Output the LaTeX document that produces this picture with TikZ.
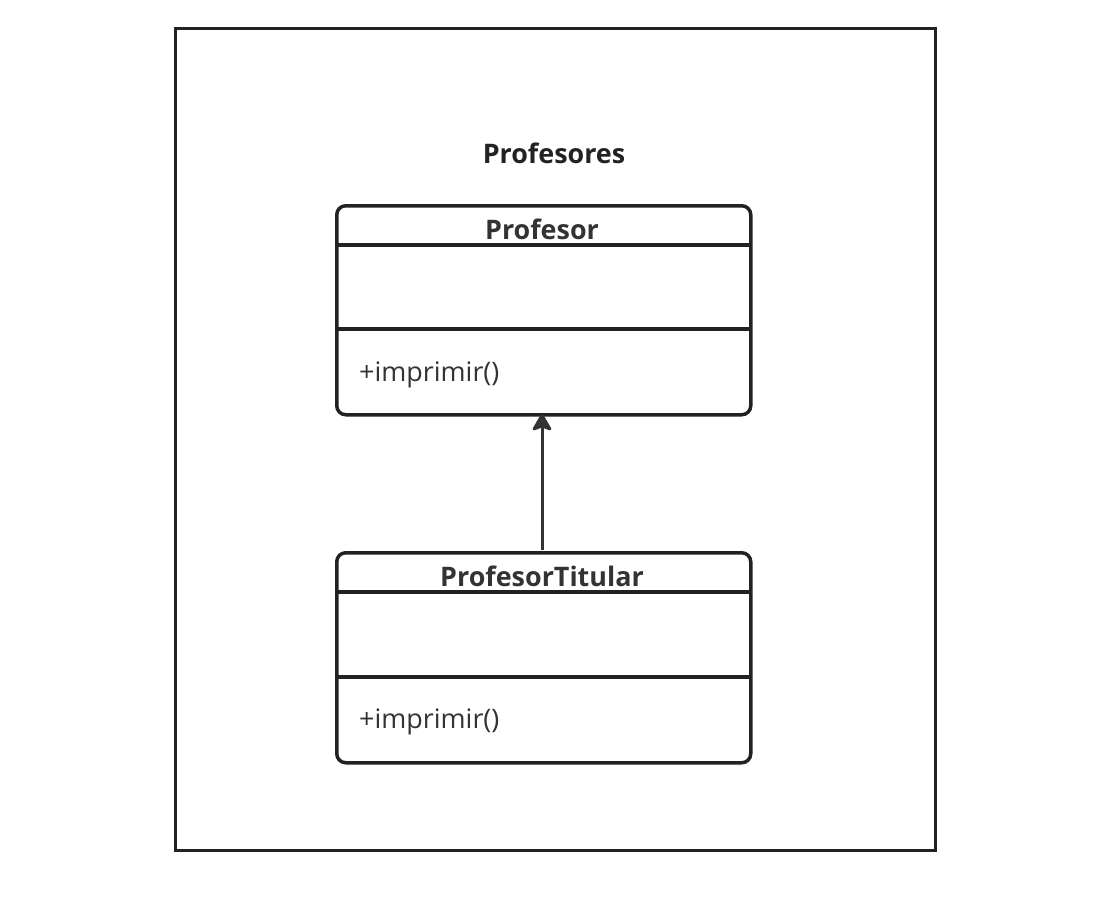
\documentclass[tikz,border=0pt]{standalone}
\usepackage{fontspec}
\setmainfont{Open Sans}
\usetikzlibrary{arrows.meta}
\definecolor{ink}{HTML}{222222}
\definecolor{txt}{HTML}{333333}
\tikzset{
  frame/.style={draw=ink, line width=2.5bp},
  classbox/.style={draw=ink, line width=3.5bp, rounded corners=9bp, minimum width=414bp, inner sep=0pt},
  divider/.style={draw=ink, line width=3.5bp},
  title/.style={text=ink, font=\bfseries\fontsize{27}{31}\selectfont, inner sep=0pt},
  cname/.style={text=txt, font=\bfseries\fontsize{27}{31}\selectfont, inner sep=0pt},
  member/.style={text=txt, font=\fontsize{27}{31}\selectfont, inner sep=0pt, anchor=west},
  inherit/.style={draw=txt, line width=3bp, -{Stealth[length=19bp,width=22bp,inset=4bp,round]}}
}
\begin{document}
\begin{tikzpicture}[x=1bp,y=-1bp]
\useasboundingbox (0,0) rectangle (1097,910);
\node[frame, minimum width=760bp, minimum height=822bp, inner sep=0pt, anchor=north west] (pkg) at (174,27) {};
\node[title] (pkgname) at (554,153) {Profesores};
% Profesor
\node[classbox, minimum height=209bp, anchor=north west] (p) at (335,204) {};
\node[cname] (pname) at (542,229) {Profesor};
\coordinate (pd1l) at (335,245); \coordinate (pd1r) at (749,245);
\coordinate (pd2l) at (335,329); \coordinate (pd2r) at (749,329);
\draw[divider] (pd1l) -- (pd1r);
\draw[divider] (pd2l) -- (pd2r);
\node[member] (pm) at (359,375) {+imprimir()};
% ProfesorTitular
\node[classbox, minimum height=210bp, anchor=north west] (t) at (335,551) {};
\node[cname] (tname) at (542,576) {ProfesorTitular};
\coordinate (td1l) at (335,592); \coordinate (td1r) at (749,592);
\coordinate (td2l) at (335,677); \coordinate (td2r) at (749,677);
\draw[divider] (td1l) -- (td1r);
\draw[divider] (td2l) -- (td2r);
\node[member] (tm) at (359,722) {+imprimir()};
% inheritance
\coordinate (ts) at (542,550);
\coordinate (pe) at (542,414);
\draw[inherit] (ts) -- (pe);
\end{tikzpicture}
\end{document}
